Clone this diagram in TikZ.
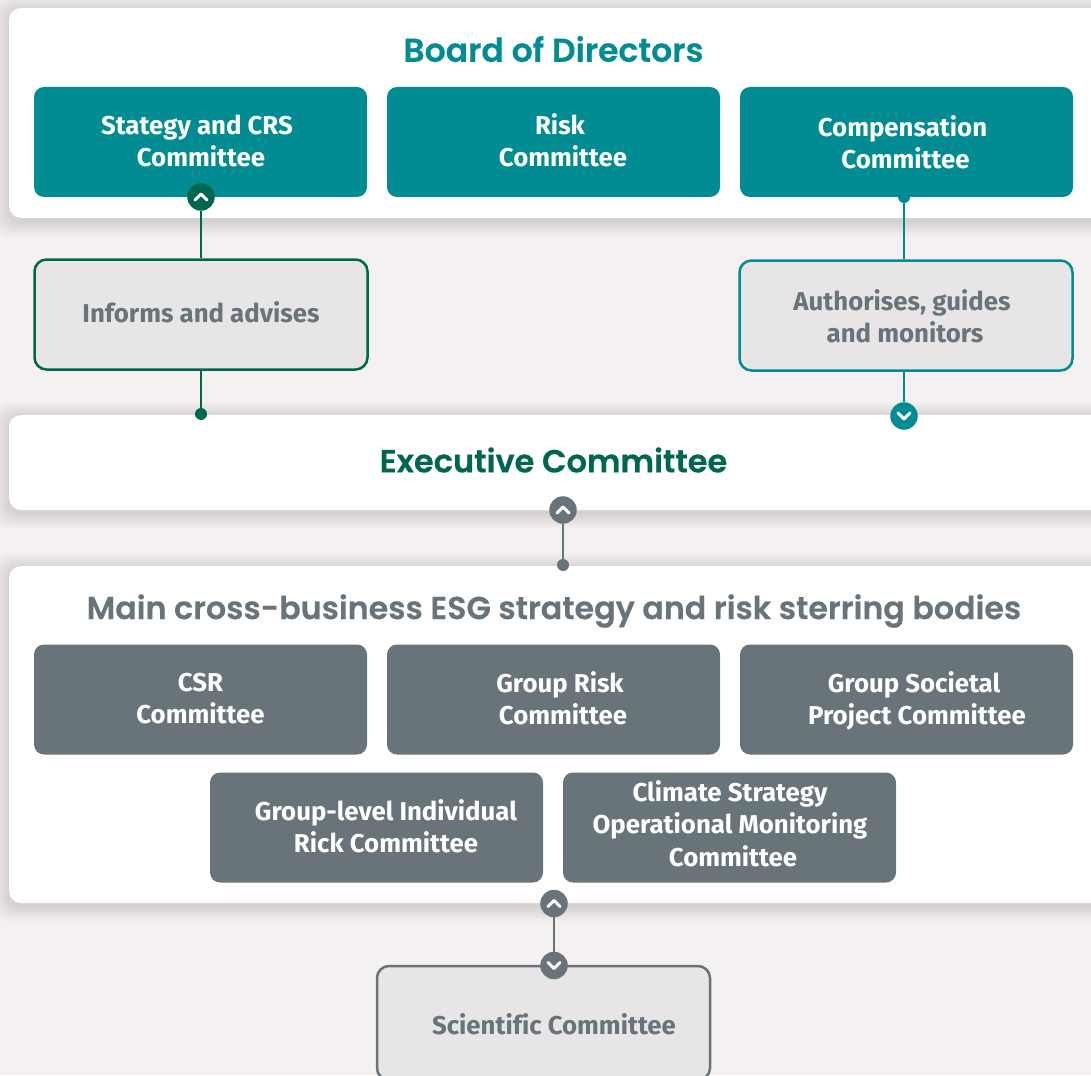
\documentclass[tikz,border=0pt]{standalone}
\usepackage{fontspec}
\setmainfont[Ligatures=NoCommon]{Fira Sans}
\newfontfamily\headfont[FakeBold=0.35]{Poppins SemiBold}
\definecolor{pagetint}{HTML}{F4F1F0}
\definecolor{teal}{HTML}{008C92}
\definecolor{forest}{HTML}{00674F}
\definecolor{slate}{HTML}{68737A}
\definecolor{paletint}{HTML}{E7E5E6}
\tikzset{
  body/.style={font=\fontsize{25.8}{32}\selectfont\bfseries, align=center, inner sep=0pt, text=#1},
  head/.style={font=\fontsize{#1}{36}\selectfont\headfont, inner sep=0pt},
  solidbox/.style={fill=#1, rounded corners=10pt, minimum width=333pt, minimum height=110pt, inner sep=0pt},
  palebox/.style={fill=paletint, draw=#1, line width=2.5pt, rounded corners=12pt, minimum width=333pt, minimum height=110pt, inner sep=0pt},
  badge/.style={circle, fill=#1, minimum size=27.5pt, inner sep=0pt},
  dot/.style={circle, fill=#1, minimum size=12pt, inner sep=0pt},
  link/.style={draw=#1, line width=2pt},
  chev/.style={draw=white, line width=3pt, line cap=round, line join=round}
}
% soft shadow behind a panel
\newcommand{\softshadow}[2]{%
  \foreach \s in {1,...,16}
    \fill[black, opacity=0.008, rounded corners=14pt] (9-\s,#1-\s+3) rectangle (1120,#2+\s+3);
}
% chevrons inside a badge
\newcommand{\chevup}[1]{\draw[chev] ([shift={(-6,3)}]#1.center) -- ++(6,-6) -- ++(6,6);}
\newcommand{\chevdown}[1]{\draw[chev] ([shift={(-6,-3)}]#1.center) -- ++(6,6) -- ++(6,-6);}
\begin{document}
\begin{tikzpicture}[x=1pt,y=-1pt]
\useasboundingbox (0,0) rectangle (1091,1075);
\clip (0,0) rectangle (1091,1075);
\fill[pagetint] (0,0) rectangle (1091,1075);
% Panels
\softshadow{8}{218}
\softshadow{415}{510}
\softshadow{566}{903}
\fill[white, rounded corners=12pt] (9,8) rectangle (1120,218);
\fill[white, rounded corners=12pt] (9,415) rectangle (1120,510);
\fill[white, rounded corners=12pt] (9,566) rectangle (1120,903);
% Headings
\node[head=33, text=teal] (boardhead) at (553.5,49) {Board of Directors};
\node[head=32, text=forest] (exechead) at (553.5,460) {Executive Committee};
\node[head=31.7, text=slate] (mainhead) at (554,611) {Main cross-business ESG strategy and risk sterring bodies};
% Board committees
\node[solidbox=teal] (strategy) at (200.5,142) {};
\node[solidbox=teal] (risk) at (553.5,142) {};
\node[solidbox=teal] (compensation) at (906.5,142) {};
\node[body=white] (strategytext) at (201,141) {Stategy and CRS\hspace*{8pt}\\Committee};
\node[body=white] (risktext) at (563,140) {Risk\hspace*{6pt}\\Committee};
\node[body=white] (compensationtext) at (905.5,142) {Compensation\hspace*{6pt}\\Committee};
% Advisory boxes
\node[palebox=forest] (informs) at (201,314.5) {};
\node[palebox=teal] (authorises) at (906,315.5) {};
\node[body=slate] (informstext) at (201,312.5) {Informs and advises};
\node[body=slate] (authorisestext) at (905,316.5) {Authorises, guides\hspace*{6pt}\\and monitors};
% Steering bodies
\node[solidbox=slate] (csr) at (200.5,699.5) {};
\node[solidbox=slate] (grouprisk) at (553.5,699.5) {};
\node[solidbox=slate] (societal) at (906.5,699.5) {};
\node[solidbox=slate] (individual) at (376.5,827.5) {};
\node[solidbox=slate] (climate) at (729.5,827.5) {};
\node[body=white] (csrtext) at (200.5,699) {CSR\\Committee};
\node[body=white] (grouprisktext) at (563,698) {Group Risk\hspace*{6pt}\\Committee};
\node[body=white] (societaltext) at (917,701) {Group Societal\hspace*{6pt}\\Project Committee};
\node[body=white] (individualtext) at (386,826) {Group-level Individual\\Rick Committee};
\node[body=white] (climatetext) at (730,824) {Climate Strategy\\Operational Monitoring\\[1pt]\hspace*{6pt}Committee};
\node[palebox=slate, minimum height=114pt] (scientific) at (543.5,1023) {};
\node[body=slate] (scientifictext) at (554,1024) {Scientific Committee};
% Badges and dots
\node[badge=forest] (strategyup) at (201,197) {};
\node[dot=forest] (execdot) at (201,414) {};
\node[dot=teal] (compdot) at (904,197) {};
\node[badge=teal] (execdown) at (904,416) {};
\node[badge=slate] (execup) at (563,510) {};
\node[dot=slate] (maindot) at (563,565) {};
\node[badge=slate] (mainup) at (554,903.5) {};
\node[badge=slate] (scidown) at (554,965.5) {};
% Connectors
\draw[link=forest] (strategyup) -- (informs.north);
\draw[link=forest] (informs.south) -- (execdot);
\draw[link=teal] (compdot) -- (compdot |- authorises.north);
\draw[link=teal] (compdot |- authorises.south) -- (execdown);
\draw[link=slate] (execup) -- (maindot);
\draw[link=slate] (mainup) -- (scidown);
% Chevrons
\chevup{strategyup}
\chevdown{execdown}
\chevup{execup}
\chevup{mainup}
\chevdown{scidown}
\end{tikzpicture}
\end{document}
